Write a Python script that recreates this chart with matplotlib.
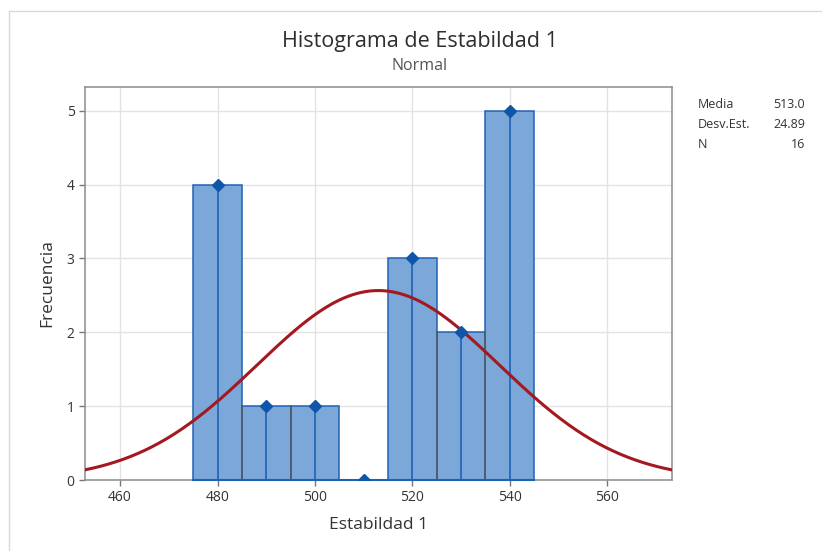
import numpy as np
import matplotlib
matplotlib.use("Agg")
import matplotlib.pyplot as plt
from matplotlib.lines import Line2D

# Data
bin_centers = [480, 490, 500, 510, 520, 530, 540]
counts = [4, 1, 1, 0, 3, 2, 5]
bin_width = 10
mean = 513.0
std = 24.89
n = 16
x_ticks = [460, 480, 500, 520, 540, 560]
y_ticks = [0, 1, 2, 3, 4, 5]
stat_labels = ["Media", "Desv.Est.", "N"]
stat_values = ["513.0", "24.89", "16"]

plt.rcParams['font.family'] = ['Open Sans', 'DejaVu Sans']

W, H = 822, 551
fig = plt.figure(figsize=(W/100, H/100), dpi=100)
ax = fig.add_axes([85/W, 1-480/H, (672-85)/W, (480-87)/H])

bar_face = '#7BA7D9'
bar_edge = '#1F62B5'
text_col = '#333333'

ax.set_xlim(452.8, 573.3)
ax.set_ylim(0, 5.32)
ax.grid(True, color='#E3E3E3', linewidth=1)
ax.set_axisbelow(True)

ax.bar(bin_centers, counts, width=bin_width, color=bar_face, edgecolor=bar_edge,
       linewidth=1.1, zorder=2)

# internal shared edges in gray
for i in range(len(counts)-1):
    h = min(counts[i], counts[i+1])
    if h > 0:
        xe = (bin_centers[i] + bin_centers[i+1]) / 2
        ax.plot([xe, xe], [0, h], color='#5A5A5A', linewidth=1.1, zorder=3)

# baseline of bars
ax.plot([bin_centers[0]-bin_width/2, bin_centers[-1]+bin_width/2], [0, 0],
        color=bar_edge, linewidth=1.5, zorder=3, clip_on=False)

# stems and markers
ax.vlines(bin_centers, 0, counts, color=bar_edge, linewidth=1.2, zorder=3)
ax.plot(bin_centers, counts, linestyle='none', marker='D', markersize=6.5,
        color='#0F55A8', zorder=5, clip_on=True)

# normal curve
xs = np.linspace(452.8, 573.3, 400)
ys = n * bin_width / (std*np.sqrt(2*np.pi)) * np.exp(-0.5*((xs-mean)/std)**2)
ax.plot(xs, ys, color='#A3191F', linewidth=2.2, zorder=4)

ax.set_xticks(x_ticks)
ax.set_yticks(y_ticks)
ax.tick_params(axis='both', colors='#777777', labelcolor=text_col, labelsize=10,
               length=4, width=1)
for s in ax.spines.values():
    s.set_color('#8C8C8C')
    s.set_linewidth(1.1)

ax.set_xlabel("Estabildad 1", fontsize=12.5, color=text_col, labelpad=8)
ax.set_ylabel("Frecuencia", fontsize=12.5, color=text_col, labelpad=8)

fig.text(420/W, 1-42/H, "Histograma de Estabildad 1", ha='center', va='center',
         fontsize=15.5, color='#2E2E2E')
fig.text(420/W, 1-66/H, "Normal", ha='center', va='center', fontsize=11.5,
         color='#555555')

for i, (lab, val) in enumerate(zip(stat_labels, stat_values)):
    y = 1 - (105 + 20*i)/H
    fig.text(698/W, y, lab, ha='left', va='center', fontsize=9, color=text_col)
    fig.text(805/W, y, val, ha='right', va='center', fontsize=9, color=text_col)

# outer frame lines
fig.add_artist(Line2D([9/W, 9/W], [0, 1-11/H], transform=fig.transFigure,
                      color='#D9D9D9', linewidth=1))
fig.add_artist(Line2D([9/W, 1], [1-11/H, 1-11/H], transform=fig.transFigure,
                      color='#D9D9D9', linewidth=1))

fig.savefig("out.png", dpi=100)
